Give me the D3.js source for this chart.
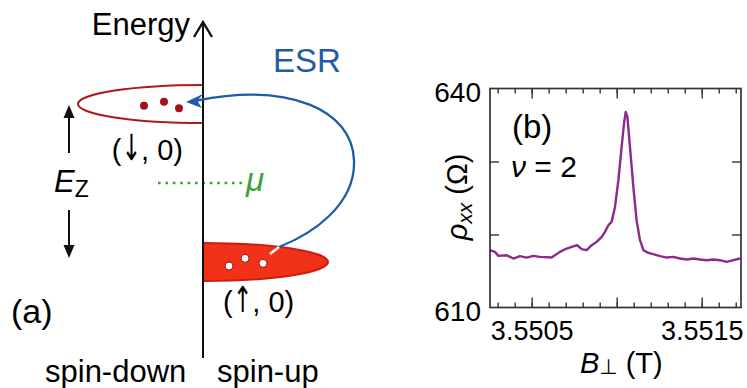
<!DOCTYPE html>
<html>
<head>
<meta charset="utf-8">
<script src="https://cdn.jsdelivr.net/npm/d3@7"></script>
<style>
    body { margin: 0; background: #fff; }
    svg text { font-family: "Liberation Sans", Arial, "DejaVu Sans", sans-serif; fill: #000; }
</style>
</head>
<body>
<svg id="fig" width="747" height="388"></svg>
<script>
// ---- panel (b): rho_xx around the ESR resonance, nu = 2
const fieldT = [
    3.550255, 3.550284, 3.550304, 3.550353, 3.550392, 3.550431, 3.550470, 3.550510,
    3.550549, 3.550617, 3.550666, 3.550706, 3.550735, 3.550768, 3.550794, 3.550823,
    3.550853, 3.550882, 3.550912, 3.550931, 3.550951, 3.550970, 3.550990, 3.551010,
    3.551029, 3.551043, 3.551053, 3.551063, 3.551078, 3.551098, 3.551117, 3.551137,
    3.551157, 3.551186, 3.551215, 3.551255, 3.551294, 3.551333, 3.551372, 3.551412,
    3.551451, 3.551490, 3.551529, 3.551568, 3.551608, 3.551647, 3.551686, 3.551725
];
const rhoXX = [
    617.85, 617.62, 617.07, 617.16, 616.71, 617.03, 616.84, 617.07,
    616.93, 616.84, 617.62, 618.08, 618.31, 618.53, 617.99, 617.85,
    618.53, 618.99, 619.67, 620.36, 621.27, 621.73, 623.78, 627.44,
    632.00, 635.20, 636.80, 636.11, 632.00, 626.52, 621.96, 619.22,
    617.85, 617.48, 617.30, 617.03, 616.84, 616.93, 616.71, 616.57,
    616.71, 616.57, 616.48, 616.57, 616.48, 616.25, 616.48, 616.71
];
const xTickLabels = ['3.5505', '3.5515'];
const yTickLabels = ['610', '640'];
const xMajorTicks = [3.5505, 3.5510, 3.5515];
const yMajorTicks = [620, 630];

// ---- panel (a): Zeeman-split levels (energy in units of E_Z)
const levelSpin = ['down', 'up'];
const levelEnergy = [0.5, -0.5];
const levelArrows = ['\u2193', '\u2191'];
const chemicalPotential = 0;

const svg = d3.select('#fig');

/* ---------------- panel (a) ---------------- */
const energy = d3.scaleLinear().domain([-0.5, 0.5]).range([262, 104]);
const dos = d3.scaleLinear().domain([-1, 1]).range([78, 328]);
const axisX = dos(0);
const halfH = 19;

const levels = levelSpin.map((s, i) => ({ spin: s, e: levelEnergy[i], arrow: levelArrows[i] }));

// level lobes (half ellipses on each side of the energy axis)
svg.append('g').selectAll('path')
    .data(levels)
    .enter()
        .append('path')
        .attr('d', d => {
            const cy = energy(d.e);
            const rx = Math.abs(dos(d.spin === 'down' ? -1 : 1) - axisX);
            return `M${axisX},${cy - halfH} A${rx},${halfH} 0 0 ${d.spin === 'down' ? 0 : 1} ${axisX},${cy + halfH}`;
        })
        .attr('fill', d => d.spin === 'down' ? 'none' : '#f2311b')
        .attr('stroke', d => d.spin === 'down' ? '#a81c1c' : '#cc1d10')
        .attr('stroke-width', 2);

// electrons in spin-down, holes in spin-up
const yDown = energy(0.5), yUp = energy(-0.5);
svg.append('g').selectAll('circle')
    .data([[-59, 1.7], [-39, -2.3], [-24, 4.3]])
    .enter().append('circle')
        .attr('cx', d => axisX + d[0]).attr('cy', d => yDown + d[1]).attr('r', 4)
        .attr('fill', '#a3121a');
svg.append('g').selectAll('circle')
    .data([[26, 4], [42, -3.7], [60, 1.3]])
    .enter().append('circle')
        .attr('cx', d => axisX + d[0]).attr('cy', d => yUp + d[1]).attr('r', 4)
        .attr('fill', '#fff').attr('stroke', '#a51010').attr('stroke-width', 1);

// level labels "(arrow, 0)" -- the arrow glyph is squeezed to look like the tall thin one
function levelLabel(lv, xPos, yPos, anchor)
{
    const g = svg.append('g');
    const open = g.append('text').attr('y', yPos).style('font-size', '29px').text('(');
    const arrow = g.append('text').style('font-family', '"DejaVu Sans", sans-serif')
        .style('font-size', '36px').text(lv.arrow);
    const rest = g.append('text').attr('y', yPos).style('font-size', '29px').text(', 0)');
    const sx = 0.65;
    const wOpen = open.node().getComputedTextLength();
    const wArrow = arrow.node().getComputedTextLength() * sx;
    const wRest = rest.node().getComputedTextLength();
    const x0 = anchor === 'end' ? xPos - (wOpen + wArrow + wRest) : xPos;
    open.attr('x', x0);
    arrow.attr('transform', `translate(${x0 + wOpen},${yPos}) scale(${sx},1)`);
    rest.attr('x', x0 + wOpen + wArrow);
}
levelLabel(levels[0], axisX - 20, yDown + 56, 'end');
levelLabel(levels[1], axisX + 20, yUp + 50, 'start');

// chemical potential
const yMu = energy(chemicalPotential);
svg.append('line')
    .attr('x1', 158).attr('x2', 243).attr('y1', yMu).attr('y2', yMu)
    .attr('stroke', '#3da23a').attr('stroke-width', 2.6).attr('stroke-dasharray', '2.6,4.8');
svg.append('text').attr('x', 246).attr('y', yMu + 8)
    .style('font-size', '33px').style('font-style', 'italic').style('fill', '#3da23a').text('\u03bc');

// E_Z double arrow
const ezX = 69;
const arrowHead = (x, tipY, dir) => `M${x},${tipY} L${x - 5.5},${tipY - dir * 13} L${x + 5.5},${tipY - dir * 13} Z`;
svg.append('line').attr('x1', ezX).attr('x2', ezX).attr('y1', 153).attr('y2', yDown + 10)
    .attr('stroke', '#111').attr('stroke-width', 2);
svg.append('path').attr('d', arrowHead(ezX, yDown + 1, -1)).attr('fill', '#111');
svg.append('line').attr('x1', ezX).attr('x2', ezX).attr('y1', 210).attr('y2', yUp - 12)
    .attr('stroke', '#111').attr('stroke-width', 2);
svg.append('path').attr('d', arrowHead(ezX, yUp - 4, 1)).attr('fill', '#111');
const ez = svg.append('text').attr('x', 54).attr('y', 192).style('font-size', '31px');
ez.append('tspan').style('font-style', 'italic').text('E');
ez.append('tspan').attr('dy', 5).style('font-size', '23px').text('Z');

// energy axis
svg.append('line').attr('x1', axisX).attr('x2', axisX).attr('y1', 358).attr('y2', 23)
    .attr('stroke', '#111').attr('stroke-width', 2);
svg.append('path').attr('d', `M${axisX - 9},37 L${axisX},22 L${axisX + 9},37`)
    .attr('fill', 'none').attr('stroke', '#111').attr('stroke-width', 2.4);
svg.append('text').attr('x', 190).attr('y', 35).attr('text-anchor', 'end')
    .style('font-size', '31px').text('Energy');

// ESR transition arrow
const esr = d3.path();
esr.moveTo(197, 100.5);
esr.bezierCurveTo(290, 82, 352, 110, 354, 160);
esr.bezierCurveTo(356, 205, 312, 234, 279, 247);
svg.append('path').attr('d', esr.toString())
    .attr('fill', 'none').attr('stroke', '#1f5ca8').attr('stroke-width', 2.3);
svg.append('line').attr('x1', 279).attr('y1', 247).attr('x2', 270).attr('y2', 254)
    .attr('stroke', '#fff').attr('stroke-width', 2.3);
svg.append('path').attr('d', 'M186,102 L204,93.5 L197,100.5 L202,108 Z').attr('fill', '#1f5ca8');
svg.append('text').attr('x', 273).attr('y', 72)
    .style('font-size', '33px').style('fill', '#1f5ca8').text('ESR');

svg.append('text').attr('x', 11).attr('y', 323).style('font-size', '34px').text('(a)');
svg.append('text').attr('x', 45).attr('y', 382).style('font-size', '31px').text('spin-down');
svg.append('text').attr('x', 217).attr('y', 382).style('font-size', '31px').text('spin-up');

/* ---------------- panel (b) ---------------- */
const x = d3.scaleLinear().domain([3.550255, 3.551731]).range([490, 741]);
const y = d3.scaleLinear().domain([610, 640]).range([307.5, 88.5]);
const minorTicks = d3.range(3.5503, 3.55175, 0.0001);

function tickAxis(axis, at, size, values)
{
    const g = svg.append('g')
        .attr('transform', at)
        .call(axis.tickValues(values).tickSize(size).tickFormat(''));
    g.select('.domain').remove();
    g.selectAll('line').attr('stroke', '#333').attr('stroke-width', 1.4);
}
tickAxis(d3.axisBottom(x), `translate(0,${y(610)})`, -5, minorTicks);
tickAxis(d3.axisBottom(x), `translate(0,${y(610)})`, -10, xMajorTicks);
tickAxis(d3.axisTop(x), `translate(0,${y(640)})`, -5, minorTicks);
tickAxis(d3.axisTop(x), `translate(0,${y(640)})`, -10, xMajorTicks);
tickAxis(d3.axisLeft(y), `translate(${x.range()[0]},0)`, -9, yMajorTicks);
tickAxis(d3.axisRight(y), `translate(${x.range()[1]},0)`, -9, yMajorTicks);

const xLab = svg.append('g')
    .attr('transform', `translate(0,${y(610)})`)
    .call(d3.axisBottom(x).tickValues(xTickLabels.map(Number)).tickFormat((d, i) => xTickLabels[i]).tickSize(0).tickPadding(13));
xLab.select('.domain').remove();
xLab.selectAll('text').attr('font-family', null).style('font-size', '27px').style('fill', '#000');

const yLab = svg.append('g')
    .attr('transform', `translate(${x.range()[0]},0)`)
    .call(d3.axisLeft(y).tickValues(yTickLabels.map(Number)).tickFormat((d, i) => yTickLabels[i]).tickSize(0).tickPadding(9));
yLab.select('.domain').remove();
yLab.selectAll('text').attr('font-family', null).attr('dy', '0.45em').style('font-size', '28px').style('fill', '#000');

svg.append('path')
    .datum(fieldT.map((b, i) => [b, rhoXX[i]]))
    .attr('d', d3.line().x(d => x(d[0])).y(d => y(d[1])))
    .attr('fill', 'none').attr('stroke', '#8c2a8c').attr('stroke-width', 2.4).attr('stroke-linejoin', 'round');

svg.append('rect')
    .attr('x', x.range()[0]).attr('y', y(640))
    .attr('width', x.range()[1] - x.range()[0]).attr('height', y(610) - y(640))
    .attr('fill', 'none').attr('stroke', '#333').attr('stroke-width', 1.7);

svg.append('text').attr('x', 512).attr('y', 138).style('font-size', '33px').text('(b)');
const nu = svg.append('text').attr('x', 511).attr('y', 177).style('font-size', '30px');
nu.append('tspan').style('font-style', 'italic').text('\u03bd');
nu.append('tspan').text(' = 2');

const bLab = svg.append('text').attr('x', 580).attr('y', 373).style('font-size', '29px');
bLab.append('tspan').style('font-style', 'italic').text('B');
bLab.append('tspan').attr('dy', 1).style('font-size', '21px').text('\u22a5');
bLab.append('tspan').attr('dy', -1).text(' (T)');

const rLab = svg.append('text').attr('transform', 'translate(467,197) rotate(-90)')
    .attr('text-anchor', 'middle').style('font-size', '29px');
rLab.append('tspan').style('font-style', 'italic').text('\u03c1');
rLab.append('tspan').attr('dy', 5).style('font-style', 'italic').style('font-size', '21px').text('xx');
rLab.append('tspan').attr('dy', -5).text(' (\u03a9)');
</script>
</body>
</html>
